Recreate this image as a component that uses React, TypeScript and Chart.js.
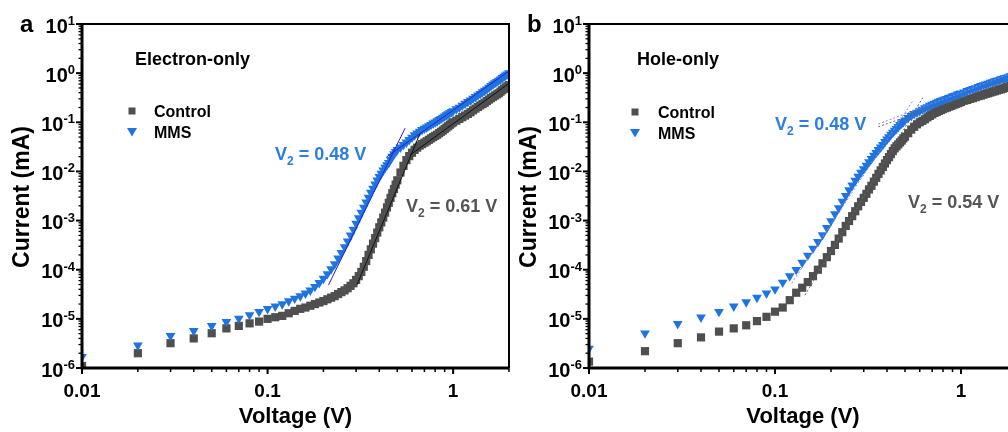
import React, { useEffect, useRef } from "react";
import { Chart, registerables } from "chart.js";
Chart.register(...registerables);

// ---------- DATA ----------
const voltage = [
  0.01, 0.02, 0.03, 0.04, 0.05, 0.06, 0.07, 0.08, 0.09, 0.10,
  0.11, 0.12, 0.13, 0.14, 0.15, 0.16, 0.17, 0.18, 0.19, 0.20,
  0.21, 0.22, 0.23, 0.24, 0.25, 0.26, 0.27, 0.28, 0.29, 0.30,
  0.31, 0.32, 0.33, 0.34, 0.35, 0.36, 0.37, 0.38, 0.39, 0.40,
  0.41, 0.42, 0.43, 0.44, 0.45, 0.46, 0.47, 0.48, 0.49, 0.50,
  0.52, 0.54, 0.56, 0.58, 0.60, 0.62, 0.64, 0.66, 0.68, 0.70,
  0.72, 0.74, 0.76, 0.78, 0.80, 0.82, 0.84, 0.86, 0.88, 0.90,
  0.92, 0.94, 0.96, 0.98, 1.00,
  1.04, 1.08, 1.12, 1.16, 1.20, 1.24, 1.28, 1.32, 1.36, 1.40,
  1.44, 1.48, 1.52, 1.56, 1.60, 1.64, 1.68, 1.72, 1.76, 1.80,
  1.84, 1.88, 1.92, 1.96, 2.00,
];

// Panel a: electron-only, current in mA
const electronControl = [
  1.1e-6, 2.0e-6, 3.2e-6, 4.0e-6, 5.1e-6, 6.4e-6, 7.2e-6, 8.1e-6, 8.8e-6, 1.0e-5,
  1.08e-5, 1.15e-5, 1.3e-5, 1.45e-5, 1.6e-5, 1.7e-5, 1.85e-5, 2.0e-5, 2.15e-5, 2.3e-5,
  2.5e-5, 2.7e-5, 2.9e-5, 3.2e-5, 3.5e-5, 3.8e-5, 4.2e-5, 4.7e-5, 5.3e-5, 6.2e-5,
  7.4e-5, 9.0e-5, 1.15e-4, 1.5e-4, 2.0e-4, 2.6e-4, 3.4e-4, 4.4e-4, 5.7e-4, 7.3e-4,
  9.2e-4, 1.15e-3, 1.45e-3, 1.85e-3, 2.3e-3, 2.9e-3, 3.6e-3, 4.4e-3, 5.4e-3, 6.6e-3,
  9.5e-3, 1.3e-2, 1.7e-2, 2.05e-2, 2.4e-2, 2.75e-2, 3.05e-2, 3.35e-2, 3.6e-2, 3.85e-2,
  4.1e-2, 4.4e-2, 4.7e-2, 5.0e-2, 5.3e-2, 5.6e-2, 6.0e-2, 6.4e-2, 6.8e-2, 7.3e-2,
  7.8e-2, 8.3e-2, 8.9e-2, 9.5e-2, 0.10,
  0.108, 0.117, 0.127, 0.137, 0.148, 0.16, 0.175, 0.19, 0.205, 0.22,
  0.235, 0.25, 0.27, 0.29, 0.31, 0.33, 0.35, 0.37, 0.39, 0.42,
  0.45, 0.48, 0.51, 0.54, 0.57,
];
const electronMMS = [
  1.7e-6, 2.9e-6, 4.5e-6, 5.7e-6, 7.2e-6, 8.7e-6, 1.02e-5, 1.2e-5, 1.4e-5, 1.6e-5,
  1.8e-5, 2.0e-5, 2.3e-5, 2.6e-5, 2.9e-5, 3.3e-5, 3.8e-5, 4.5e-5, 5.4e-5, 6.6e-5,
  8.2e-5, 1.03e-4, 1.3e-4, 1.7e-4, 2.2e-4, 2.9e-4, 3.8e-4, 5.0e-4, 6.6e-4, 8.7e-4,
  1.12e-3, 1.45e-3, 1.85e-3, 2.35e-3, 2.95e-3, 3.7e-3, 4.5e-3, 5.5e-3, 6.6e-3, 7.8e-3,
  9.1e-3, 1.06e-2, 1.2e-2, 1.35e-2, 1.5e-2, 1.75e-2, 2.0e-2, 2.25e-2, 2.5e-2, 2.75e-2,
  3.1e-2, 3.5e-2, 3.9e-2, 4.4e-2, 4.9e-2, 5.5e-2, 6.0e-2, 6.5e-2, 7.0e-2, 7.5e-2,
  7.9e-2, 8.4e-2, 8.9e-2, 9.5e-2, 0.10, 0.106, 0.112, 0.118, 0.125, 0.133,
  0.14, 0.147, 0.155, 0.163, 0.17,
  0.185, 0.20, 0.22, 0.24, 0.26, 0.28, 0.305, 0.33, 0.355, 0.38,
  0.41, 0.44, 0.47, 0.51, 0.55, 0.59, 0.63, 0.67, 0.71, 0.75,
  0.80, 0.85, 0.90, 0.95, 1.0,
];

// Panel b: hole-only, current in mA
const holeControl = [
  1.35e-6, 2.2e-6, 3.2e-6, 4.2e-6, 5.5e-6, 6.4e-6, 7.4e-6, 9.0e-6, 1.1e-5, 1.4e-5,
  1.7e-5, 2.4e-5, 3.4e-5, 4.3e-5, 5.6e-5, 7.4e-5, 1.0e-4, 1.35e-4, 1.8e-4, 2.4e-4,
  3.2e-4, 4.3e-4, 5.8e-4, 7.8e-4, 9.8e-4, 1.23e-3, 1.55e-3, 1.95e-3, 2.4e-3, 2.9e-3,
  3.5e-3, 4.3e-3, 5.1e-3, 6.2e-3, 7.4e-3, 8.9e-3, 1.05e-2, 1.23e-2, 1.45e-2, 1.7e-2,
  1.95e-2, 2.25e-2, 2.6e-2, 2.95e-2, 3.25e-2, 3.55e-2, 3.9e-2, 4.25e-2, 4.7e-2, 5.1e-2,
  6.0e-2, 7.1e-2, 8.1e-2, 9.1e-2, 0.10, 0.107, 0.115, 0.126, 0.135, 0.145,
  0.155, 0.162, 0.17, 0.178, 0.186, 0.194, 0.20, 0.208, 0.215, 0.223,
  0.23, 0.238, 0.245, 0.253, 0.26,
  0.275, 0.285, 0.30, 0.31, 0.325, 0.34, 0.35, 0.365, 0.38, 0.39,
  0.405, 0.42, 0.43, 0.445, 0.46, 0.47, 0.485, 0.50, 0.52, 0.53,
  0.545, 0.56, 0.575, 0.59, 0.60,
];
const holeMMS = [
  2.5e-6, 5.1e-6, 7.9e-6, 1.07e-5, 1.4e-5, 1.8e-5, 2.2e-5, 2.7e-5, 3.3e-5, 4.0e-5,
  5.5e-5, 7.4e-5, 1.0e-4, 1.4e-4, 1.95e-4, 2.7e-4, 3.7e-4, 5.1e-4, 7.1e-4, 9.8e-4,
  1.35e-3, 1.8e-3, 2.45e-3, 3.2e-3, 4.2e-3, 5.2e-3, 6.5e-3, 7.9e-3, 9.5e-3, 1.12e-2,
  1.32e-2, 1.55e-2, 1.8e-2, 2.1e-2, 2.4e-2, 2.75e-2, 3.1e-2, 3.5e-2, 4.0e-2, 4.5e-2,
  5.0e-2, 5.6e-2, 6.2e-2, 6.8e-2, 7.4e-2, 8.1e-2, 8.9e-2, 9.5e-2, 0.102, 0.11,
  0.123, 0.135, 0.148, 0.158, 0.17, 0.182, 0.195, 0.204, 0.219, 0.229,
  0.24, 0.251, 0.263, 0.275, 0.282, 0.295, 0.302, 0.316, 0.324, 0.339,
  0.347, 0.355, 0.372, 0.38, 0.389,
  0.407, 0.437, 0.457, 0.479, 0.50, 0.525, 0.55, 0.575, 0.59, 0.617,
  0.646, 0.66, 0.69, 0.71, 0.72, 0.76, 0.78, 0.79, 0.81, 0.83,
  0.87, 0.89, 0.91, 0.93, 0.95,
];

// Tangent (fit) lines: [V start, V end] and [I start, I end]
const electronMMSSteepV = [0.213, 0.551];
const electronMMSSteepI = [4.9e-5, 0.076];
const electronMMSFlatV = [0.44, 2.0];
const electronMMSFlatI = [0.020, 1.1];
const electronCtrlSteepV = [0.303, 0.664];
const electronCtrlSteepI = [4.9e-5, 0.060];
const electronCtrlFlatV = [0.586, 2.0];
const electronCtrlFlatI = [0.0216, 0.62];

const holeMMSSteepV = [0.123, 0.555];
const holeMMSSteepI = [5.3e-5, 0.284];
const holeMMSFlatV = [0.359, 2.0];
const holeMMSFlatI = [0.092, 1.1];
const holeCtrlSteepV = [0.145, 0.627];
const holeCtrlSteepI = [3.05e-5, 0.33];
const holeCtrlFlatV = [0.359, 2.0];
const holeCtrlFlatI = [0.081, 0.8];

const yTickExponents = [-6, -5, -4, -3, -2, -1, 0, 1];
const xTickValues = [0.01, 0.1, 1];
const xTickLabels = ["0.01", "0.1", "1"];
const xMinorTicks = [0.02, 0.03, 0.04, 0.05, 0.06, 0.07, 0.08, 0.09, 0.2, 0.3, 0.4, 0.5, 0.6, 0.7, 0.8, 0.9, 2];
const legendLabels = ["Control", "MMS"];

// ---------- STYLE ----------
const GRAY = "#4f4f4f";
const BLUE = "#1e74e0";
const FONT = '"Liberation Sans", Arial, sans-serif';

type Ann = { text: string; color: string; dx: number; y: number };
type Panel = {
  letter: string;
  title: string;
  titleDx: number;
  legendDx: number;
  legendTextDx: number;
  legendY: number[];
  anns: Ann[];
};

function pts(xs: number[], ys: number[]) {
  return xs.map((v, i) => ({ x: v, y: ys[i] }));
}

function drawV2(ctx: CanvasRenderingContext2D, x: number, y: number, value: string, color: string) {
  ctx.fillStyle = color;
  ctx.textAlign = "left";
  ctx.textBaseline = "alphabetic";
  ctx.font = `bold 18px ${FONT}`;
  ctx.fillText("V", x, y);
  const w1 = ctx.measureText("V").width;
  ctx.font = `bold 12px ${FONT}`;
  ctx.fillText("2", x + w1, y + 5);
  const w2 = ctx.measureText("2").width;
  ctx.font = `bold 18px ${FONT}`;
  ctx.fillText(value, x + w1 + w2, y);
}

function decorPlugin(p: Panel) {
  return {
    id: "decor",
    afterDatasetsDraw(chart: any) {
      const ctx: CanvasRenderingContext2D = chart.ctx;
      const { left, right, top, bottom } = chart.chartArea;
      const xs = chart.scales.x;
      const ys = chart.scales.y;
      ctx.save();
      // frame
      ctx.strokeStyle = "#000";
      ctx.lineWidth = 2;
      ctx.beginPath();
      ctx.moveTo(left, top);
      ctx.lineTo(right, top);
      ctx.lineTo(right, bottom);
      ctx.stroke();
      ctx.lineWidth = 3;
      ctx.beginPath();
      ctx.moveTo(left, top - 1);
      ctx.lineTo(left, bottom);
      ctx.lineTo(right, bottom);
      ctx.stroke();

      // y ticks
      yTickExponents.forEach((e) => {
        const py = ys.getPixelForValue(Math.pow(10, e));
        ctx.lineWidth = 2;
        ctx.beginPath();
        ctx.moveTo(left - 6, py);
        ctx.lineTo(left, py);
        ctx.stroke();
        if (e < 1) {
          ctx.lineWidth = 1.3;
          for (let m = 2; m <= 9; m++) {
            const pm = ys.getPixelForValue(m * Math.pow(10, e));
            ctx.beginPath();
            ctx.moveTo(left - 3.5, pm);
            ctx.lineTo(left, pm);
            ctx.stroke();
          }
        }
        // label
        ctx.fillStyle = "#000";
        ctx.textBaseline = "alphabetic";
        ctx.font = `bold 13px ${FONT}`;
        const expStr = e < 0 ? `-${-e}` : `${e}`;
        const ew = ctx.measureText(expStr).width;
        const endX = left - 7;
        ctx.textAlign = "right";
        ctx.fillText(expStr, endX, py + 1);
        ctx.font = `bold 20px ${FONT}`;
        ctx.fillText("10", endX - ew, py + 8.5);
      });

      // x ticks
      ctx.lineWidth = 2;
      xTickValues.forEach((v, i) => {
        const px = xs.getPixelForValue(v);
        ctx.beginPath();
        ctx.moveTo(px, bottom);
        ctx.lineTo(px, bottom + 6);
        ctx.stroke();
        ctx.fillStyle = "#000";
        ctx.font = `bold 19px ${FONT}`;
        ctx.textAlign = "center";
        ctx.fillText(xTickLabels[i], px, bottom + 29);
      });
      ctx.lineWidth = 1.5;
      xMinorTicks.forEach((v) => {
        const px = xs.getPixelForValue(v);
        ctx.beginPath();
        ctx.moveTo(px, bottom);
        ctx.lineTo(px, bottom + 4);
        ctx.stroke();
      });

      // axis titles
      ctx.fillStyle = "#000";
      ctx.font = `bold 22px ${FONT}`;
      ctx.textAlign = "center";
      ctx.fillText("Voltage (V)", (left + right) / 2, bottom + 55);
      ctx.save();
      ctx.translate(left - 59, (top + bottom) / 2 + 1);
      ctx.rotate(-Math.PI / 2);
      ctx.font = `bold 23px ${FONT}`;
      ctx.textBaseline = "middle";
      ctx.fillText("Current (mA)", 0, 0);
      ctx.restore();

      // panel letter
      ctx.font = `bold 24px ${FONT}`;
      ctx.textAlign = "left";
      ctx.textBaseline = "alphabetic";
      ctx.fillText(p.letter, left - 62, top + 8);

      // title
      ctx.font = `bold 18px ${FONT}`;
      ctx.fillText(p.title, left + p.titleDx, top + 41);

      // legend
      const lx = left + p.legendDx;
      ctx.fillStyle = GRAY;
      ctx.fillRect(lx - 3.5, p.legendY[0] - 3.5, 7, 7);
      ctx.fillStyle = BLUE;
      ctx.beginPath();
      ctx.moveTo(lx - 5, p.legendY[1] - 4);
      ctx.lineTo(lx + 5, p.legendY[1] - 4);
      ctx.lineTo(lx, p.legendY[1] + 4.5);
      ctx.closePath();
      ctx.fill();
      ctx.fillStyle = "#000";
      ctx.font = `bold 16px ${FONT}`;
      ctx.fillText(legendLabels[0], left + p.legendTextDx, p.legendY[0] + 6);
      ctx.fillText(legendLabels[1], left + p.legendTextDx, p.legendY[1] + 6);

      // annotations
      p.anns.forEach((a) => drawV2(ctx, left + a.dx, a.y, a.text, a.color));
      ctx.restore();
    },
  };
}

function makeChart(
  canvas: HTMLCanvasElement,
  control: number[],
  mms: number[],
  lines: { v: number[]; i: number[]; color: string; dash: number[] }[],
  padding: { left: number; right: number; top: number; bottom: number },
  panel: Panel
) {
  const datasets: any[] = [];
  lines.forEach((l) =>
    datasets.push({
      type: "line",
      data: pts(l.v, l.i),
      borderColor: l.color,
      borderWidth: 1,
      borderDash: l.dash,
      pointRadius: 0,
      fill: false,
      order: 0,
    })
  );
  datasets.push({
    label: "MMS",
    data: pts(voltage, mms),
    pointStyle: "triangle",
    rotation: 180,
    pointRadius: 5.6,
    backgroundColor: BLUE,
    borderColor: BLUE,
    borderWidth: 0,
    order: 1,
  });
  datasets.push({
    label: "Control",
    data: pts(voltage, control),
    pointStyle: "rect",
    pointRadius: 5.8,
    backgroundColor: GRAY,
    borderColor: GRAY,
    borderWidth: 0,
    order: 2,
  });
  return new Chart(canvas, {
    type: "scatter",
    data: { datasets },
    options: {
      responsive: false,
      animation: false,
      devicePixelRatio: 1,
      layout: { padding },
      plugins: { legend: { display: false }, tooltip: { enabled: false } },
      scales: {
        x: { type: "logarithmic", min: 0.01, max: 2, display: false },
        y: { type: "logarithmic", min: 1e-6, max: 10, display: false },
      },
    },
    plugins: [decorPlugin(panel)],
  } as any);
}

export default function App() {
  const refA = useRef<HTMLCanvasElement>(null);
  const refB = useRef<HTMLCanvasElement>(null);
  useEffect(() => {
    const a = makeChart(
      refA.current!,
      electronControl,
      electronMMS,
      [
        { v: electronMMSSteepV, i: electronMMSSteepI, color: "#2a1fd8", dash: [] },
        { v: electronMMSFlatV, i: electronMMSFlatI, color: "#2a1fd8", dash: [] },
        { v: electronCtrlSteepV, i: electronCtrlSteepI, color: "#111111", dash: [] },
        { v: electronCtrlFlatV, i: electronCtrlFlatI, color: "#111111", dash: [] },
      ],
      { left: 82, right: 11, top: 24, bottom: 64 },
      {
        letter: "a",
        title: "Electron-only",
        titleDx: 53,
        legendDx: 50,
        legendTextDx: 72,
        legendY: [111, 132],
        anns: [
          { text: " = 0.48 V", color: "#2a7de1", dx: 193, y: 160 },
          { text: " = 0.61 V", color: "#555555", dx: 324, y: 212 },
        ],
      }
    );
    const b = makeChart(
      refB.current!,
      holeControl,
      holeMMS,
      [
        { v: holeMMSSteepV, i: holeMMSSteepI, color: "#8a84e0", dash: [2, 2] },
        { v: holeMMSFlatV, i: holeMMSFlatI, color: "#8a84e0", dash: [2, 2] },
        { v: holeCtrlSteepV, i: holeCtrlSteepI, color: "#666666", dash: [2, 2] },
        { v: holeCtrlFlatV, i: holeCtrlFlatI, color: "#666666", dash: [2, 2] },
      ],
      { left: 89, right: 13, top: 24, bottom: 64 },
      {
        letter: "b",
        title: "Hole-only",
        titleDx: 48,
        legendDx: 46,
        legendTextDx: 69,
        legendY: [112, 133],
        anns: [
          { text: " = 0.48 V", color: "#2a7de1", dx: 186, y: 130 },
          { text: " = 0.54 V", color: "#555555", dx: 319, y: 208 },
        ],
      }
    );
    return () => {
      a.destroy();
      b.destroy();
    };
  }, []);
  return (
    <div
      style={{
        position: "absolute",
        left: 0,
        top: 0,
        width: 1008,
        height: 432,
        overflow: "hidden",
        background: "#fff",
      }}
    >
      <canvas ref={refA} width={520} height={432} style={{ position: "absolute", left: 0, top: 0 }} />
      <canvas ref={refB} width={530} height={432} style={{ position: "absolute", left: 500, top: 0 }} />
    </div>
  );
}
